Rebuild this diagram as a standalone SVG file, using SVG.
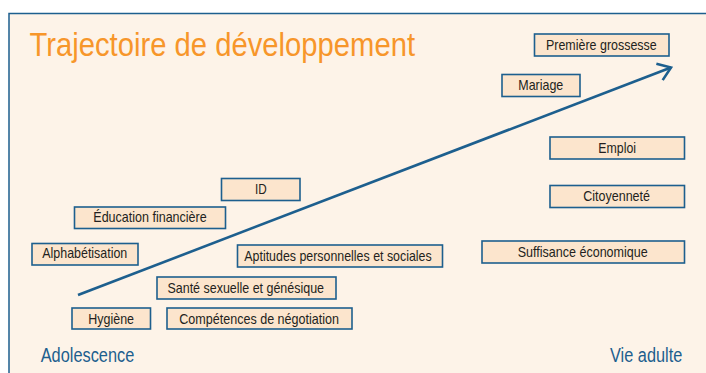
<svg xmlns="http://www.w3.org/2000/svg" width="706" height="373" viewBox="0 0 706 373">
<style>
.box{fill:#FCE5CD;stroke:#1D5F8E;stroke-width:1.6}
.lbl{font-family:"Liberation Sans",Arial,sans-serif;font-size:14.5px;fill:#231F20}
.title{font-family:"Liberation Sans",Arial,sans-serif;font-size:34px;fill:#F7962A}
.axis{font-family:"Liberation Sans",Arial,sans-serif;font-size:19.5px;fill:#1D5F8E}
.conn{fill:none;stroke:#1D5F8E;stroke-width:2.6}
</style>
<defs>
<marker id="chev" markerUnits="userSpaceOnUse" markerWidth="30" markerHeight="30" viewBox="-20 -15 30 30" refX="0" refY="0" orient="auto">
<path d="M-12.3,-8.8 L0,0 L-12.3,8.8" fill="none" stroke="#1D5F8E" stroke-width="2.6" stroke-linejoin="miter"/>
</marker>
</defs>
<rect x="0" y="0" width="706" height="373" fill="#FFFFFF"/>
<rect x="9" y="13.5" width="720" height="380" fill="#FDF3E8" stroke="#1D5F8E" stroke-width="1.5"/>
<text class="title" x="29.5" y="56" textLength="385.5" lengthAdjust="spacingAndGlyphs">Trajectoire de développement</text>
<g id="connectors">
<path class="conn" d="M78,295 L671,67.5" marker-end="url(#chev)"/>
</g>
<g id="premiere"><rect class="box" x="534.5" y="34" width="134.5" height="22"/><text class="lbl" x="546" y="50" textLength="110.7" lengthAdjust="spacingAndGlyphs">Première grossesse</text></g>
<g id="mariage"><rect class="box" x="502" y="74.5" width="78" height="22"/><text class="lbl" x="518.3" y="90.3" textLength="45" lengthAdjust="spacingAndGlyphs">Mariage</text></g>
<g id="emploi"><rect class="box" x="550" y="137" width="134.5" height="22"/><text class="lbl" x="598.3" y="152.8" textLength="37.7" lengthAdjust="spacingAndGlyphs">Emploi</text></g>
<g id="citoyennete"><rect class="box" x="550" y="185.5" width="134.5" height="22"/><text class="lbl" x="583.3" y="201" textLength="66.7" lengthAdjust="spacingAndGlyphs">Citoyenneté</text></g>
<g id="suffisance"><rect class="box" x="482" y="241" width="202.5" height="22"/><text class="lbl" x="517.7" y="256.8" textLength="130" lengthAdjust="spacingAndGlyphs">Suffisance économique</text></g>
<g id="id"><rect class="box" x="221.5" y="178.5" width="78.5" height="22"/><text class="lbl" x="255" y="194.3" textLength="11.7" lengthAdjust="spacingAndGlyphs">ID</text></g>
<g id="education"><rect class="box" x="74.5" y="207" width="151" height="21.5"/><text class="lbl" x="93.3" y="222.3" textLength="113.4" lengthAdjust="spacingAndGlyphs">Éducation financière</text></g>
<g id="alphabetisation"><rect class="box" x="32" y="243.5" width="106" height="21.5"/><text class="lbl" x="42.3" y="258" textLength="85" lengthAdjust="spacingAndGlyphs">Alphabétisation</text></g>
<g id="aptitudes"><rect class="box" x="237.5" y="245" width="205" height="22"/><text class="lbl" x="244.3" y="261" textLength="187.4" lengthAdjust="spacingAndGlyphs">Aptitudes personnelles et sociales</text></g>
<g id="sante"><rect class="box" x="157" y="277" width="179" height="22"/><text class="lbl" x="167.5" y="293.3" textLength="156.5" lengthAdjust="spacingAndGlyphs">Santé sexuelle et génésique</text></g>
<g id="hygiene"><rect class="box" x="72" y="308" width="78.5" height="21"/><text class="lbl" x="88.3" y="323.5" textLength="45.7" lengthAdjust="spacingAndGlyphs">Hygiène</text></g>
<g id="competences"><rect class="box" x="167" y="308" width="185" height="21"/><text class="lbl" x="179.3" y="323.5" textLength="159.7" lengthAdjust="spacingAndGlyphs">Compétences de négotiation</text></g>
<text class="axis" x="40.7" y="361.7" textLength="93.6" lengthAdjust="spacingAndGlyphs">Adolescence</text>
<text class="axis" x="610" y="361.7" textLength="72.3" lengthAdjust="spacingAndGlyphs">Vie adulte</text>
</svg>
